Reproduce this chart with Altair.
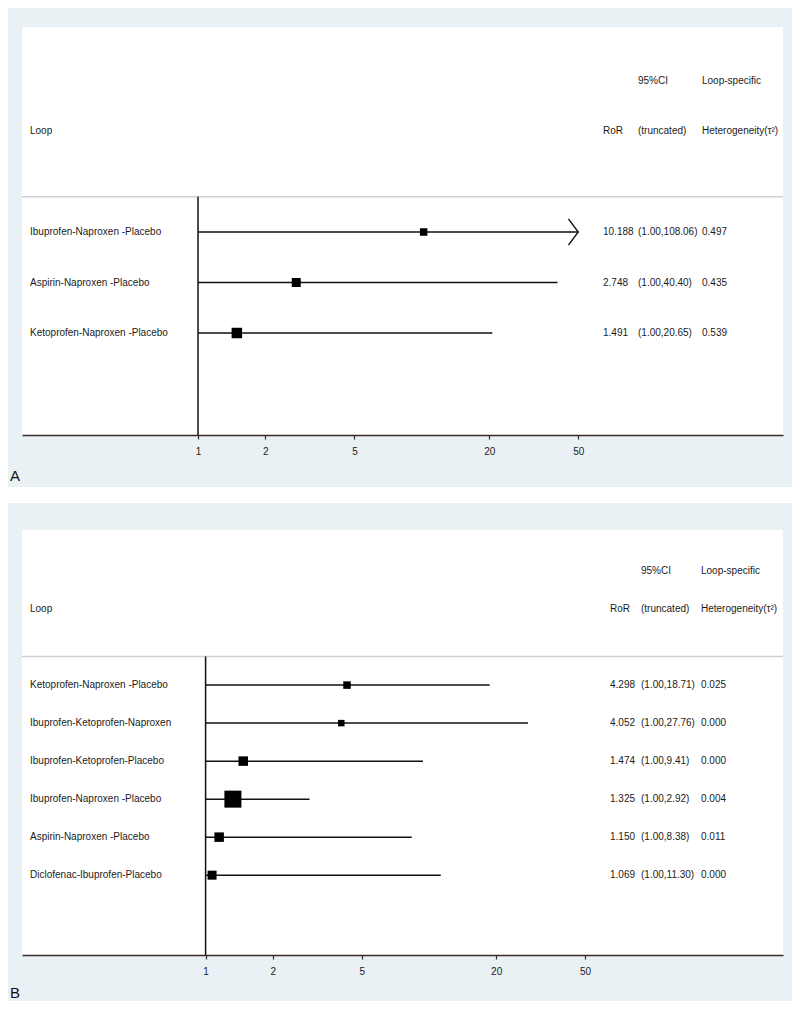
import altair as alt
import pandas as pd

# ---------------- data ----------------
TICKS = [1, 2, 5, 20, 50]
CAP = 50  # CIs beyond the axis are truncated with an arrow

loops_a = ["Ibuprofen-Naproxen -Placebo", "Aspirin-Naproxen -Placebo",
           "Ketoprofen-Naproxen -Placebo"]
ror_a = [10.188, 2.748, 1.491]
lo_a = [1.00, 1.00, 1.00]
hi_a = [108.06, 40.40, 20.65]
het_a = [0.497, 0.435, 0.539]
box_a = [7.5, 9.0, 10.5]          # square side ~ weight

loops_b = ["Ketoprofen-Naproxen -Placebo", "Ibuprofen-Ketoprofen-Naproxen",
           "Ibuprofen-Ketoprofen-Placebo", "Ibuprofen-Naproxen -Placebo",
           "Aspirin-Naproxen -Placebo", "Diclofenac-Ibuprofen-Placebo"]
ror_b = [4.298, 4.052, 1.474, 1.325, 1.150, 1.069]
lo_b = [1.00, 1.00, 1.00, 1.00, 1.00, 1.00]
hi_b = [18.71, 27.76, 9.41, 2.92, 8.38, 11.30]
het_b = [0.025, 0.000, 0.000, 0.004, 0.011, 0.000]
box_b = [7.5, 6.5, 9.5, 17.0, 9.5, 9.0]

FONT = "Liberation Sans"
TXT = "#1b1b1b"
LINE = "#111111"
AXC = "#3a2c2c"
W = 761


def build(loops, ror, lo, hi, het, box, x_dom, y_dom, h, sep_row, cols,
          letter, letter_dy, gap):
    n = len(loops)
    rows = [4 + i for i in range(n)]
    df = pd.DataFrame({
        "loop": loops, "row": rows, "ror": ror, "lo": lo, "hi": hi,
        "hi_plot": [min(v, CAP) for v in hi],
        "trunc": [v > CAP for v in hi],
        "area": [b * b for b in box],
    })
    xs = alt.Scale(type="log", domain=x_dom, nice=False, zero=False)
    xa = alt.Axis(values=TICKS, format="d", grid=False, title=None,
                  domainColor=AXC, domainWidth=1.5, tickColor=AXC,
                  tickWidth=1.2, tickSize=4, labelFontSize=10,
                  labelFont=FONT, labelColor=TXT, labelPadding=7,
                  labelFlush=False, labelOverlap=False)
    ys = alt.Scale(domain=y_dom, reverse=True, nice=False, zero=False)

    def X(f):
        return alt.X(f, type="quantitative", scale=xs, axis=xa)

    def Y(f="row"):
        return alt.Y(f, type="quantitative", scale=ys, axis=None)

    base = alt.Chart(df)
    ci = base.mark_rule(color=LINE, strokeWidth=1.5).encode(
        x=X("lo"), x2="hi_plot", y=Y())
    sq = base.mark_square(color="black", opacity=1).encode(
        x=X("ror"), y=Y(),
        size=alt.Size("area:Q", scale=None, legend=None))
    arrow = base.transform_filter("datum.trunc").mark_point(
        shape="M-0.75,-1L0,0L-0.75,1", filled=False, color=LINE,
        strokeWidth=1.3, size=676, opacity=1).encode(x=X("hi_plot"), y=Y())

    sep_df = pd.DataFrame({"r": [sep_row], "one": [1.0]})
    sep = alt.Chart(sep_df).mark_rule(color="#c9d1d9", strokeWidth=1.5).encode(
        y=Y("r"), x=alt.value(0), x2=alt.value(W))
    vline = alt.Chart(sep_df).mark_rule(color=LINE, strokeWidth=1.5).encode(
        x=X("one"), y=Y("r"), y2=alt.value(h))

    col_loop = pd.DataFrame({"row": [2] + rows, "t": ["Loop"] + loops})
    col_ror = pd.DataFrame({"row": [2] + rows,
                            "t": ["RoR"] + [f"{v:.3f}" for v in ror]})
    col_ci = pd.DataFrame({"row": [1, 2] + rows,
                           "t": ["95%CI", "(truncated)"] +
                                [f"({a:.2f},{b:.2f})" for a, b in zip(lo, hi)]})
    col_het = pd.DataFrame({"row": [1, 2] + rows,
                            "t": ["Loop-specific", "Heterogeneity(τ²)"] +
                                 [f"{v:.3f}" for v in het]})
    texts = []
    for cdf, key in [(col_loop, "loop"), (col_ror, "ror"),
                     (col_ci, "ci"), (col_het, "het")]:
        texts.append(alt.Chart(cdf).mark_text(
            align="left", baseline="middle", font=FONT, fontSize=10,
            color=TXT).encode(x=alt.value(cols[key]), y=Y(), text="t:N"))

    let = alt.Chart(pd.DataFrame({"t": [letter]})).mark_text(
        align="left", baseline="middle", font=FONT, fontSize=15,
        color="#111111").encode(x=alt.value(-12), y=alt.value(h + letter_dy),
                                text="t:N")
    layers = [sep, vline, ci, sq, arrow] + texts + [let]
    if gap:
        g = alt.Chart(pd.DataFrame({"g": [0]})).mark_rect(color="white").encode(
            x=alt.value(-14), x2=alt.value(770),
            y=alt.value(h + 52), y2=alt.value(h + 68))
        layers.append(g)
    return alt.layer(*layers).properties(width=W, height=h)


panel_a = build(loops_a, ror_a, lo_a, hi_a, het_a, box_a,
                x_dom=[0.1635, 411.0], y_dom=[-0.06, 8.02], h=408,
                sep_row=3.3,
                cols={"loop": 8, "ror": 581, "ci": 616, "het": 680},
                letter="A", letter_dy=41, gap=True)
panel_b = build(loops_b, ror_b, lo_b, hi_b, het_b, box_b,
                x_dom=[0.1506, 385.2], y_dom=[-0.08, 11.1], h=425,
                sep_row=3.25,
                cols={"loop": 8, "ror": 588, "ci": 619, "het": 679},
                letter="B", letter_dy=38, gap=False)

chart = alt.vconcat(panel_a, panel_b, spacing=27).properties(
    background="#E9F1F5",
    padding={"left": 0, "top": 19, "right": 0, "bottom": 0},
).configure_view(fill="white", stroke="white", strokeWidth=0)

chart.save("out.html", embed_options={"renderer": "svg", "actions": False})
